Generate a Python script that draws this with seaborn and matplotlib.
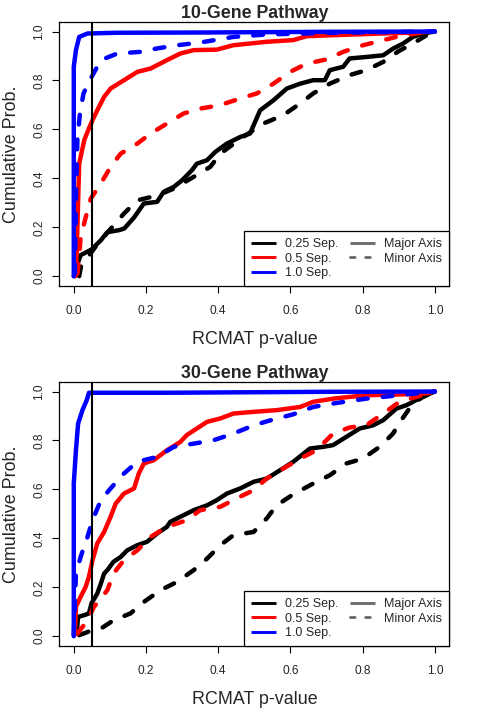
import pandas as pd
import seaborn as sns
from matplotlib import pyplot as plt
from matplotlib.lines import Line2D

# ---- 10-gene pathway, ECDF of RCMAT p-values ----
g10_025_major_x = [0, 0.008, 0.019, 0.049, 0.075, 0.093, 0.125, 0.14, 0.167, 0.194, 0.231, 0.249,
                   0.277, 0.3, 0.327, 0.341, 0.369, 0.392, 0.424, 0.461, 0.488, 0.516, 0.553, 0.59,
                   0.627, 0.663, 0.695, 0.709, 0.746, 0.764, 0.81, 0.857, 0.884, 0.912, 0.939, 0.967, 1.0]
g10_025_major_y = [0, 0.04, 0.086, 0.109, 0.147, 0.18, 0.188, 0.195, 0.24, 0.297, 0.304, 0.345,
                   0.365, 0.392, 0.433, 0.46, 0.474, 0.508, 0.542, 0.569, 0.583, 0.678, 0.719, 0.767,
                   0.787, 0.801, 0.801, 0.842, 0.856, 0.89, 0.896, 0.903, 0.93, 0.951, 0.978, 0.992, 1.0]
g10_025_minor_x = [0.015, 0.02, 0.06, 0.1, 0.139, 0.176, 0.231, 0.277, 0.332, 0.378, 0.406, 0.46,
                   0.525, 0.58, 0.627, 0.663, 0.709, 0.764, 0.81, 0.857, 0.9, 0.939, 0.985, 1.0]
g10_025_minor_y = [0.0, 0.04, 0.12, 0.19, 0.256, 0.31, 0.33, 0.358, 0.406, 0.447, 0.501, 0.56,
                   0.624, 0.658, 0.706, 0.747, 0.787, 0.822, 0.842, 0.876, 0.92, 0.951, 0.992, 1.0]
g10_05_major_x = [0.004, 0.008, 0.015, 0.029, 0.04, 0.052, 0.065, 0.084, 0.102, 0.139, 0.176, 0.213,
                  0.258, 0.295, 0.332, 0.396, 0.442, 0.534, 0.608, 0.645, 0.718, 0.857, 0.948, 1.0]
g10_05_major_y = [0.0, 0.093, 0.46, 0.556, 0.597, 0.638, 0.678, 0.733, 0.767, 0.801, 0.835, 0.849,
                  0.883, 0.91, 0.924, 0.926, 0.944, 0.958, 0.965, 0.981, 0.985, 0.992, 0.996, 1.0]
g10_05_minor_x = [0.01, 0.015, 0.019, 0.033, 0.047, 0.075, 0.102, 0.13, 0.176, 0.213, 0.258, 0.304,
                  0.35, 0.405, 0.46, 0.507, 0.553, 0.599, 0.645, 0.7, 0.746, 0.801, 0.893, 0.948, 1.0]
g10_05_minor_y = [0.01, 0.08, 0.16, 0.24, 0.317, 0.379, 0.447, 0.501, 0.542, 0.583, 0.624, 0.665,
                  0.685, 0.699, 0.726, 0.747, 0.787, 0.835, 0.869, 0.886, 0.917, 0.944, 0.978, 0.992, 1.0]
g10_10_major_x = [0, 0, 0.006, 0.015, 0.038, 0.12, 0.35, 0.718, 1.0]
g10_10_major_y = [0, 0.856, 0.924, 0.978, 0.992, 0.995, 0.996, 0.999, 1.0]
g10_10_minor_x = [0.003, 0.006, 0.01, 0.017, 0.027, 0.047, 0.075, 0.12, 0.185, 0.231, 0.286, 0.35,
                  0.442, 0.534, 0.718, 1.0]
g10_10_minor_y = [0.01, 0.31, 0.556, 0.665, 0.747, 0.808, 0.883, 0.91, 0.917, 0.931, 0.944, 0.955,
                  0.978, 0.988, 0.995, 1.0]

# ---- 30-gene pathway ----
g30_025_major_x = [0.008, 0.012, 0.029, 0.042, 0.049, 0.065, 0.075, 0.084, 0.093, 0.11, 0.13, 0.148,
                   0.176, 0.203, 0.231, 0.258, 0.267, 0.295, 0.332, 0.369, 0.396, 0.424, 0.461, 0.498,
                   0.534, 0.571, 0.608, 0.654, 0.691, 0.718, 0.755, 0.792, 0.829, 0.857, 0.893, 0.921,
                   0.948, 0.976, 1.0]
g30_025_major_y = [0.01, 0.079, 0.086, 0.093, 0.134, 0.174, 0.215, 0.256, 0.27, 0.304, 0.324, 0.351,
                   0.372, 0.386, 0.42, 0.447, 0.467, 0.488, 0.515, 0.535, 0.556, 0.583, 0.604, 0.631,
                   0.644, 0.678, 0.713, 0.767, 0.774, 0.781, 0.815, 0.849, 0.862, 0.883, 0.93, 0.944,
                   0.965, 0.985, 1.0]
g30_025_minor_x = [0.015, 0.052, 0.075, 0.11, 0.157, 0.194, 0.24, 0.286, 0.332, 0.369, 0.406, 0.442,
                   0.498, 0.534, 0.562, 0.608, 0.663, 0.709, 0.755, 0.801, 0.847, 0.884, 0.907, 0.939,
                   0.967, 1.0]
g30_025_minor_y = [0.004, 0.025, 0.031, 0.065, 0.093, 0.14, 0.188, 0.222, 0.27, 0.317, 0.372, 0.413,
                   0.426, 0.481, 0.535, 0.58, 0.624, 0.658, 0.706, 0.726, 0.774, 0.828, 0.883, 0.951,
                   0.978, 1.0]
g30_05_major_x = [0.003, 0.006, 0.019, 0.033, 0.042, 0.052, 0.065, 0.084, 0.102, 0.116, 0.139, 0.167,
                  0.18, 0.194, 0.221, 0.258, 0.295, 0.313, 0.341, 0.369, 0.406, 0.442, 0.498, 0.562,
                  0.627, 0.663, 0.718, 0.81, 0.902, 0.976, 1.0]
g30_05_major_y = [0.01, 0.12, 0.161, 0.202, 0.243, 0.311, 0.379, 0.426, 0.488, 0.542, 0.583, 0.604,
                  0.665, 0.706, 0.719, 0.76, 0.794, 0.822, 0.849, 0.876, 0.89, 0.91, 0.917, 0.924,
                  0.937, 0.958, 0.971, 0.985, 0.988, 0.992, 1.0]
g30_05_minor_x = [0.01, 0.038, 0.056, 0.093, 0.11, 0.139, 0.176, 0.213, 0.258, 0.313, 0.35, 0.406,
                  0.451, 0.498, 0.534, 0.58, 0.627, 0.672, 0.718, 0.764, 0.81, 0.857, 0.902, 0.948, 1.0]
g30_05_minor_y = [0.01, 0.065, 0.12, 0.188, 0.256, 0.311, 0.351, 0.406, 0.447, 0.474, 0.515, 0.529,
                  0.563, 0.597, 0.644, 0.685, 0.726, 0.76, 0.828, 0.853, 0.862, 0.91, 0.958, 0.978, 1.0]
g30_10_major_x = [0, 0, 0.006, 0.012, 0.024, 0.036, 0.042, 0.258, 0.718, 1.0]
g30_10_major_y = [0, 0.624, 0.76, 0.869, 0.924, 0.965, 0.995, 0.995, 0.999, 1.0]
g30_10_minor_x = [0, 0.006, 0.019, 0.038, 0.052, 0.075, 0.102, 0.139, 0.176, 0.231, 0.277, 0.332,
                  0.387, 0.442, 0.498, 0.553, 0.608, 0.663, 0.718, 0.81, 0.902, 1.0]
g30_10_minor_y = [0.004, 0.256, 0.324, 0.406, 0.474, 0.556, 0.604, 0.665, 0.713, 0.733, 0.774, 0.787,
                  0.801, 0.828, 0.862, 0.886, 0.907, 0.937, 0.951, 0.971, 0.985, 1.0]

sep_labels = ['0.25 Sep.', '0.5 Sep.', '1.0 Sep.']
axis_labels = ['Major Axis', 'Minor Axis']
sep_colors = ['black', 'red', 'blue']
ticks = [0.0, 0.2, 0.4, 0.6, 0.8, 1.0]
tick_labels = ['0.0', '0.2', '0.4', '0.6', '0.8', '1.0']
cutoff = 0.05


def make_frame(curves):
    parts = []
    for sep, ax_type, xs, ys in curves:
        parts.append(pd.DataFrame({'p': xs, 'cum': ys, 'sep': sep, 'axis': ax_type}))
    return pd.concat(parts, ignore_index=True)


df10 = make_frame([
    ('0.25 Sep.', 'Major Axis', g10_025_major_x, g10_025_major_y),
    ('0.25 Sep.', 'Minor Axis', g10_025_minor_x, g10_025_minor_y),
    ('0.5 Sep.', 'Major Axis', g10_05_major_x, g10_05_major_y),
    ('0.5 Sep.', 'Minor Axis', g10_05_minor_x, g10_05_minor_y),
    ('1.0 Sep.', 'Major Axis', g10_10_major_x, g10_10_major_y),
    ('1.0 Sep.', 'Minor Axis', g10_10_minor_x, g10_10_minor_y),
])
df30 = make_frame([
    ('0.25 Sep.', 'Major Axis', g30_025_major_x, g30_025_major_y),
    ('0.25 Sep.', 'Minor Axis', g30_025_minor_x, g30_025_minor_y),
    ('0.5 Sep.', 'Major Axis', g30_05_major_x, g30_05_major_y),
    ('0.5 Sep.', 'Minor Axis', g30_05_minor_x, g30_05_minor_y),
    ('1.0 Sep.', 'Major Axis', g30_10_major_x, g30_10_major_y),
    ('1.0 Sep.', 'Minor Axis', g30_10_minor_x, g30_10_minor_y),
])

sns.set_style('white')
plt.rcParams['font.family'] = ['Liberation Sans', 'DejaVu Sans']

LW = 3.2
DASH = (2.2, 3.4)

fig = plt.figure(figsize=(4.8, 7.2), dpi=100)
ax_top = fig.add_axes([0.1236, 0.6028, 0.8125, 0.367])
ax_bot = fig.add_axes([0.1236, 0.1028, 0.8125, 0.367])

for ax, df, title in [(ax_top, df10, '10-Gene Pathway'), (ax_bot, df30, '30-Gene Pathway')]:
    sns.lineplot(data=df, x='p', y='cum', hue='sep', style='axis',
                 hue_order=sep_labels, style_order=axis_labels,
                 palette=dict(zip(sep_labels, sep_colors)),
                 dashes={'Major Axis': '', 'Minor Axis': DASH},
                 estimator=None, sort=False, lw=LW, legend=False, ax=ax,
                 solid_capstyle='round', dash_capstyle='round',
                 solid_joinstyle='round')
    ax.axvline(cutoff, color='black', lw=1.5, zorder=5)

    ax.set_xlim(-0.04, 1.04)
    ax.set_ylim(-0.04, 1.04)
    ax.set_xticks(ticks)
    ax.set_xticklabels(tick_labels)
    ax.set_yticks(ticks)
    ax.set_yticklabels(tick_labels, rotation=90, va='center')
    ax.tick_params(direction='out', length=5, width=0.8, color='black',
                   labelsize=8.6, bottom=True, left=True)
    ax.tick_params(axis='x', pad=9)
    ax.tick_params(axis='y', pad=5)
    for s in ax.spines.values():
        s.set_color('black')
        s.set_linewidth(0.9)
        s.set_visible(True)

    ax.set_title(title, fontsize=12.8, fontweight='bold', pad=3)
    ax.set_xlabel('RCMAT p-value', fontsize=12.9, labelpad=10)
    ax.set_ylabel('Cumulative Prob.', fontsize=12.9, labelpad=10)

    handles = [Line2D([], [], color=c, lw=2.1, solid_capstyle='butt') for c in sep_colors]
    labels = list(sep_labels)
    handles += [Line2D([], [], color='#6e6e6e', lw=2.1, solid_capstyle='butt'),
                Line2D([], [], color='#6e6e6e', lw=2.1, ls=(0, (1.6, 3.6)),
                       dash_capstyle='round'),
                Line2D([], [], color='none')]
    labels += axis_labels + ['']
    leg = ax.legend(handles, labels, ncol=2, loc='lower right', borderaxespad=0,
                    fontsize=9, frameon=True, fancybox=False, framealpha=1,
                    edgecolor='black', handlelength=2.0, handletextpad=0.75,
                    columnspacing=0.9, labelspacing=0.2, borderpad=0.55)
    leg.get_frame().set_linewidth(0.9)

fig.savefig('out.png', dpi=100)
